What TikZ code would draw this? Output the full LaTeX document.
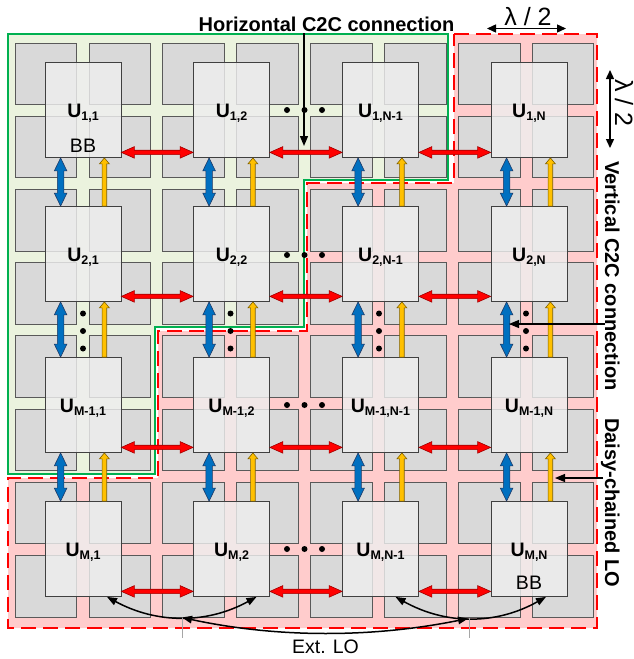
\documentclass[tikz,border=0pt]{standalone}
\usepackage{fontspec}
\setmainfont{Liberation Sans}
\usetikzlibrary{calc,arrows.meta}
\definecolor{greenbg}{HTML}{EBF3DE}
\definecolor{pinkbg}{HTML}{FFCCCC}
\definecolor{greenln}{HTML}{00B050}
\definecolor{redln}{HTML}{FF0000}
\definecolor{patchfill}{HTML}{D9D9D9}
\definecolor{patchline}{HTML}{595959}
\definecolor{unitfill}{HTML}{EEEEEE}
\definecolor{unitline}{HTML}{404040}
\definecolor{redfill}{HTML}{FF0000}
\definecolor{rededge}{HTML}{A00000}
\definecolor{bluefill}{HTML}{0070C0}
\definecolor{blueedge}{HTML}{1F3864}
\definecolor{yelfill}{HTML}{FFC000}
\definecolor{yeledge}{HTML}{7F6000}
\newcommand\ulab[1]{{\fontsize{19.5}{19.5}\selectfont\bfseries U}\raisebox{-3.5pt}{\fontsize{12.5}{12.5}\selectfont\bfseries #1}}
\tikzset{
 patchsq/.style={fill=patchfill,draw=patchline,line width=0.8pt},
 unitbox/.style={draw=unitline,fill=unitfill,fill opacity=0.82,text opacity=1,line width=0.8pt,
   minimum width=76pt,minimum height=95pt,inner sep=0pt,text height=15.4pt,text depth=1.4pt},
 redarr/.style={draw=rededge,fill=redfill,line width=0.6pt,line join=miter,
  to path={-- ($(\tikztostart)+(13,-5.8)$) -- ($(\tikztostart)+(13,-2.2)$)
   -- ($(\tikztotarget)+(-13,-2.2)$) -- ($(\tikztotarget)+(-13,-5.8)$)
   -- (\tikztotarget) -- ($(\tikztotarget)+(-13,5.8)$) -- ($(\tikztotarget)+(-13,2.2)$)
   -- ($(\tikztostart)+(13,2.2)$) -- ($(\tikztostart)+(13,5.8)$) -- cycle}},
 bluearr/.style={draw=blueedge,fill=bluefill,line width=0.6pt,line join=miter,
  to path={-- ($(\tikztostart)+(6.3,13)$) -- ($(\tikztostart)+(3.3,13)$)
   -- ($(\tikztotarget)+(3.3,-13)$) -- ($(\tikztotarget)+(6.3,-13)$)
   -- (\tikztotarget) -- ($(\tikztotarget)+(-6.3,-13)$) -- ($(\tikztotarget)+(-3.3,-13)$)
   -- ($(\tikztostart)+(-3.3,13)$) -- ($(\tikztostart)+(-6.3,13)$) -- cycle}},
 yelarr/.style={draw=yeledge,fill=yelfill,line width=0.6pt,line join=miter,
  to path={-- ($(\tikztostart)+(2.3,0)$) -- ($(\tikztotarget)+(2.3,6)$) -- ($(\tikztotarget)+(5,6)$)
   -- (\tikztotarget) -- ($(\tikztotarget)+(-5,6)$) -- ($(\tikztotarget)+(-2.3,6)$)
   -- ($(\tikztostart)+(-2.3,0)$) -- cycle}},
 annarr/.style={line width=1.3pt,-{Triangle[length=10pt,width=8pt]}},
 dblann/.style={line width=1.4pt,{Triangle[length=9pt,width=8pt]}-{Triangle[length=9pt,width=8pt]}},
 loarr/.style={line width=1.5pt,{Triangle[length=10pt,width=7.5pt]}-{Triangle[length=10pt,width=7.5pt]}},
 bigtext/.style={font=\fontsize{20}{21}\selectfont\bfseries,inner sep=0pt},
 plaintext/.style={font=\fontsize{19.5}{20}\selectfont,inner sep=0pt},
 lamtext/.style={font=\fontsize{25}{26}\selectfont,inner sep=0pt},
 dotmark/.style={fill=black}
}
\begin{document}
\begin{tikzpicture}[x=1pt,y=-1pt]
\useasboundingbox (0,0) rectangle (634,659);
% background regions
\fill[greenbg] (8,34) -- (448,34) -- (448,180) -- (304,180) -- (304,327) -- (155,327) -- (155,474) -- (8,474) -- cycle;
\fill[pinkbg] (454,34) -- (597,34) -- (597,628) -- (8,628) -- (8,478) -- (158,478) -- (158,331) -- (307,331) -- (307,183) -- (454,183) -- cycle;
% antenna patches
\foreach \i in {0,...,7}{
  \foreach \j in {0,...,7}{
    \path[patchsq] ({15+73.9*\i},{43+73.2*\j}) rectangle ++(61.5,61.5);
  }
}
% region borders
\draw[greenln,line width=2pt,line join=miter] (8,34) -- (448,34) -- (448,180) -- (304,180) -- (304,327) -- (155,327) -- (155,474) -- (8,474) -- cycle;
\draw[redln,line width=2.3pt,dash pattern=on 15pt off 7pt,line join=miter] (454,34) -- (597,34) -- (597,628) -- (8,628) -- (8,478) -- (158,478) -- (158,331) -- (307,331) -- (307,183) -- (454,183) -- cycle;
% units
\foreach \r/\ry/\rl in {1/110/1, 2/254/2, 3/405/M-1, 4/549/M}{
  \foreach \c/\cx/\cl in {1/83/1, 2/231.5/2, 3/380.5/N-1, 4/529/N}{
    \node[unitbox] (u\r\c) at (\cx,\ry) {\ulab{\rl,\cl}};
  }
}
\node[plaintext,anchor=base] (bb11) at ([yshift=5.5pt]u11.south) {BB};
\node[plaintext,anchor=base] (bb44) at ([yshift=7pt]u44.south) {BB};
% horizontal C2C links
\foreach \r in {1,...,4}{
  \foreach \c/\d in {1/2,2/3,3/4}{
    \draw[redarr] ([yshift=5.5pt]u\r\c.south east) to ([yshift=5.5pt]u\r\d.south west);
  }
}
% vertical C2C links and daisy-chained LO
\foreach \r/\s in {1/2,2/3,3/4}{
  \foreach \c in {1,...,4}{
    \draw[bluearr] ([xshift=16pt]u\r\c.south west) to ([xshift=16pt]u\s\c.north west);
    \draw[yelarr] ([xshift=-17pt]u\s\c.north east) to ([xshift=-17pt]u\r\c.south east);
  }
}
% ellipsis dots
\foreach \y in {110,255,405,549}{
  \foreach \x in {287,304.5,322}{
    \fill[dotmark] (\x,\y) circle[radius=3pt];
  }
}
\foreach \x in {83,230.5,379,526}{
  \foreach \y in {313.5,331,348.5}{
    \fill[dotmark] (\x,\y) circle[radius=3pt];
  }
}
% annotations
\node[bigtext,anchor=base] (htxt) at (326.5,31) {Horizontal C2C connection};
\coordinate (htop) at (304,33);
\coordinate (htip) at (304,146);
\draw[annarr] (htop) -- (htip);

\node[lamtext,anchor=base] (lamh) at (528,25) {λ / 2};
\coordinate (lhl) at (487,28.5);
\coordinate (lhr) at (566,28.5);
\draw[dblann] (lhl) -- (lhr);

\node[lamtext,anchor=base,rotate=-90] (lamv) at (615,103) {λ / 2};
\coordinate (lvt) at (610,70);
\coordinate (lvb) at (610,148);
\draw[dblann] (lvt) -- (lvb);

\node[bigtext,anchor=base,rotate=-90] (vtxt) at (605,276) {Vertical C2C connection};
\coordinate (vstart) at (605,324);
\coordinate (vtip) at (509,324);
\draw[annarr,line width=1.1pt] (vstart) -- (vtip);

\node[bigtext,anchor=base,rotate=-90] (dtxt) at (605,502.5) {Daisy-chained LO};
\coordinate (dstart) at (603,478);
\coordinate (dtip) at (555,478);
\draw[annarr,line width=1.1pt] (dstart) -- (dtip);

% external LO distribution
\draw[loarr] ([xshift=24pt]u41.south) .. controls (157,624) and (207,624) .. ([xshift=25pt]u42.south);
\draw[loarr] ([xshift=15pt]u43.south) .. controls (446,625) and (496,625) .. ([xshift=17pt]u44.south);
\coordinate (loL) at (182,617.5);
\coordinate (loR) at (468,618.5);
\draw[gray!70,line width=0.6pt] (182,617) -- (182,638);
\draw[gray!70,line width=0.6pt] (469,618) -- (469,638);
\draw[loarr] (loL) .. controls (277,638) and (372,638) .. (loR);
\node[plaintext,anchor=base] (extlo) at (325.5,653) {Ext. LO};
\end{tikzpicture}
\end{document}
